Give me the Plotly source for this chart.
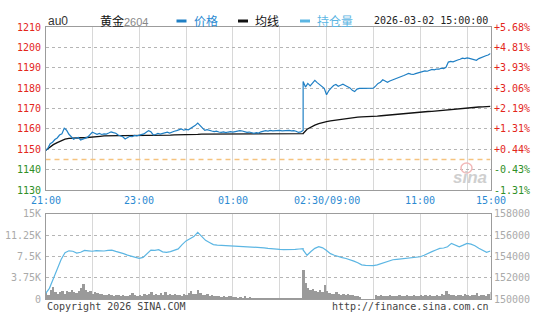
import plotly.graph_objects as go

# ---------------------------------------------------------------- data
SYMBOL = "au0"
NAME = "黄金"
CONTRACT = "2604"
STAMP = "2026-03-02 15:00:00"
REF_PRICE = 1145

PRICE_TICKS = [1130, 1140, 1150, 1160, 1170, 1180, 1190, 1200, 1210]
PCT_LABELS = ["-1.31%", "-0.43%", "+0.44%", "+1.31%", "+2.19%",
              "+3.06%", "+3.93%", "+4.81%", "+5.68%"]
TIME_TICKS = ["21:00", "23:00", "01:00", "03:00", "11:30", "15:00"]
TIME_LABELS = ["21:00", "23:00", "01:00", "02:30/09:00", "11:00", "15:00"]
VOL_TICKS = [0, 3750, 7500, 11250, 15000]
VOL_LABELS = ["0", "3.75K", "7.5K", "11.25K", "15K"]
OI_TICKS = [150000, 152000, 154000, 156000, 158000]

# price, 3-minute samples: night 21:00-02:30, day 09:00-11:30, 13:33-15:00
PRICE_NIGHT = [
    1149.3, 1150.5, 1152.8, 1153.5, 1154.8, 1155.6, 1157.0, 1157.6, 1160.4, 1159.4,
    1157.4, 1156.2, 1155.0, 1155.6, 1155.9, 1154.6, 1155.2, 1155.4, 1156.0, 1157.2,
    1158.4, 1157.9, 1157.4, 1157.8, 1157.3, 1157.6, 1157.5, 1158.0, 1158.6, 1158.2,
    1157.9, 1157.0, 1156.4, 1156.2, 1155.1, 1155.6, 1156.4, 1156.2, 1156.8, 1156.6,
    1157.0, 1157.3, 1157.6, 1158.4, 1159.2, 1158.6, 1157.1, 1157.3, 1157.8, 1157.5,
    1157.9, 1158.2, 1158.4, 1158.0, 1158.6, 1158.9, 1159.2, 1159.5, 1160.0, 1159.4,
    1159.8, 1159.6, 1160.2, 1160.9, 1161.8, 1162.9, 1161.7, 1160.4, 1159.3, 1159.7,
    1159.5, 1159.0, 1158.7, 1158.9, 1158.5, 1158.3, 1158.6, 1158.2, 1158.5, 1158.7,
    1158.5, 1158.8, 1158.9, 1159.2, 1159.0, 1158.6, 1158.3, 1158.5, 1158.1, 1157.9,
    1158.2, 1158.0, 1158.6, 1159.1, 1159.2, 1159.0, 1159.3, 1159.1, 1159.2, 1159.0,
    1159.3, 1159.1, 1159.2, 1159.0, 1159.3, 1159.1, 1159.2, 1158.9, 1158.3, 1158.6,
    1159.3,
]
PRICE_AM = [
    1183.3, 1180.6, 1182.4, 1181.2, 1182.6, 1183.9, 1182.8, 1182.0, 1181.2, 1180.0,
    1176.8, 1178.9, 1180.2, 1181.4, 1181.9, 1181.0, 1181.5, 1182.0, 1181.4, 1180.9,
    1180.2, 1179.0, 1178.4, 1179.6, 1180.0, 1180.0, 1180.0, 1180.0, 1180.0, 1180.0,
    1180.1, 1181.2, 1182.4, 1183.0, 1184.2, 1183.6, 1183.0, 1183.6, 1184.0, 1184.6,
    1185.0, 1185.4, 1185.9, 1186.3, 1186.8, 1187.3, 1187.0, 1186.8, 1187.2, 1187.6,
    1188.1,
]
PRICE_PM = [
    1188.3, 1188.6, 1188.4, 1189.0, 1189.3, 1189.1, 1189.5, 1189.4, 1189.9, 1189.7,
    1190.3, 1192.9, 1193.2, 1193.0, 1193.6, 1193.9, 1194.3, 1194.8, 1194.6, 1195.0,
    1194.7, 1194.3, 1194.0, 1193.8, 1194.6, 1195.2, 1195.6, 1196.0, 1196.4, 1197.1,
]

# volume, same 3-minute samples
VOL_NIGHT = [
    1100, 700, 1600, 2100, 1300, 900, 1200, 1500, 1000, 1400,
    1200, 1700, 1300, 1100, 1500, 2000, 2700, 1600, 1200, 1400,
    1000, 1300, 1100, 900, 1000, 800, 700, 900, 700, 600,
    800, 700, 600, 700, 500, 600, 800, 1100, 700, 600,
    800, 600, 900, 700, 1000, 1200, 800, 900, 700, 1100,
    800, 1300, 700, 900, 800, 1000, 700, 800, 600, 900,
    700, 1100, 1400, 900, 1000, 1600, 1100, 800, 700, 1000,
    600, 700, 500, 600, 500, 400, 500, 400, 600, 500,
    400, 400, 300, 400, 300, 500, 300, 400, 300, 300,
    200, 300, 200, 200, 200, 300, 200, 200, 200, 200,
    200, 200, 200, 200, 200, 300, 200, 200, 300, 300,
    400,
]
VOL_AM = [
    4800, 2800, 2000, 1700, 1900, 1500, 1300, 1600, 1200, 2600,
    1400, 1100, 1000, 900, 1200, 900, 800, 1000, 700, 900,
    800, 700, 600, 500, 400, 0, 0, 0, 0, 0,
    0, 700, 600, 800, 500, 600, 500, 700, 600, 500,
    600, 800, 500, 600, 700, 500, 600, 700, 500, 600,
    700,
]
VOL_PM = [
    600, 700, 500, 800, 600, 500, 700, 600, 900, 700,
    1400, 900, 800, 700, 600, 800, 700, 600, 900, 700,
    600, 800, 700, 1100, 600, 700, 800, 600, 900, 1200,
]

# average price and open interest, 5-minute samples
AVG_NIGHT = [
    1149.4, 1150.9, 1152.3, 1153.3, 1154.2, 1155.0, 1155.4, 1155.6, 1155.7, 1155.7,
    1155.7, 1155.8, 1155.9, 1156.1, 1156.4, 1156.6, 1156.7, 1156.7, 1156.7, 1156.7,
    1156.7, 1156.7, 1156.7, 1156.7, 1156.8, 1156.8, 1156.9, 1156.9, 1156.9, 1157.0,
    1157.0, 1157.0, 1157.0, 1157.1, 1157.1, 1157.1, 1157.2, 1157.2, 1157.3, 1157.4,
    1157.5, 1157.5, 1157.5, 1157.5, 1157.5, 1157.5, 1157.5, 1157.5, 1157.6, 1157.6,
    1157.6, 1157.6, 1157.6, 1157.6, 1157.6, 1157.6, 1157.6, 1157.7, 1157.7, 1157.7,
    1157.7, 1157.7, 1157.7, 1157.7, 1157.7, 1157.7, 1157.7,
]
AVG_AM = [
    1157.8, 1159.9, 1161.0, 1161.9, 1162.6, 1163.2, 1163.6, 1164.0, 1164.3, 1164.6,
    1164.9, 1165.1, 1165.3, 1165.6, 1165.8, 1166.0, 1166.0, 1166.0, 1166.1, 1166.3,
    1166.5, 1166.7, 1166.9, 1167.0, 1167.2, 1167.4, 1167.6, 1167.8, 1168.0, 1168.1,
    1168.3,
]
AVG_PM = [
    1168.4, 1168.6, 1168.7, 1168.9, 1169.1, 1169.3, 1169.5, 1169.7, 1169.9, 1170.1,
    1170.3, 1170.4, 1170.6, 1170.7, 1170.8, 1170.9, 1171.0, 1171.1,
]
OI_NIGHT = [
    150500, 151000, 151900, 152850, 153700, 154350, 154520, 154480, 154300, 154380,
    154560, 154520, 154480, 154530, 154510, 154500, 154560, 154590, 154470, 154380,
    154250, 154120, 154000, 153900, 153820, 153900, 154200, 154580, 154560, 154620,
    154420, 154380, 154450, 154560, 154700, 155100, 155450, 155650, 155850, 156250,
    155850, 155500, 155300, 155100, 155060, 155040, 155010, 155000, 154990, 154970,
    154960, 154940, 154920, 154900, 154870, 154850, 154800, 154750, 154700, 154660,
    154650, 154640, 154630, 154620, 154650, 154690, 154720,
]
OI_AM = [
    154600, 154100, 154450, 154750, 154900, 154800, 154550, 154250, 154100, 153970,
    153880, 153800, 153700, 153550, 153400, 153200, 153150, 153130, 153130, 153200,
    153330, 153480, 153600, 153680, 153720, 153750, 153790, 153830, 153880, 153920,
    153960,
]
OI_PM = [
    154100, 154300, 154440, 154600, 154740, 154780, 154900, 155220, 155050, 154900,
    155050, 155220, 155150, 155000, 154760, 154550, 154380, 154500,
]


# ---------------------------------------------------------------- trading clock
def clock_range(start, end, step):
    """Clock strings from start to end (inclusive), wrapping past midnight."""
    h, m = map(int, start.split(":"))
    eh, em = map(int, end.split(":"))
    cur, stop = h * 60 + m, eh * 60 + em
    out = []
    while True:
        out.append(f"{(cur // 60) % 24:02d}:{cur % 60:02d}")
        if cur % 1440 == stop:
            break
        cur += step
    return out


def axis_minute(clock):
    """Position on the compressed session axis (night 0-330, day 330-570)."""
    h, m = map(int, clock.split(":"))
    t = h * 60 + m
    if h >= 21:
        return t - 21 * 60
    if h < 9:
        return t + 3 * 60
    if t <= 11 * 60 + 30:
        return 330 + t - 9 * 60
    return 480 + t - (13 * 60 + 30)


T3 = (clock_range("21:00", "02:30", 3) + clock_range("09:00", "11:30", 3)
      + clock_range("13:33", "15:00", 3))
T5 = (clock_range("21:00", "02:30", 5) + clock_range("09:00", "11:30", 5)
      + clock_range("13:35", "15:00", 5))
X3 = [axis_minute(t) for t in T3]
X5 = [axis_minute(t) for t in T5]

price = PRICE_NIGHT + PRICE_AM + PRICE_PM
volume = VOL_NIGHT + VOL_AM + VOL_PM
avg = AVG_NIGHT + AVG_AM + AVG_PM
oi = OI_NIGHT + OI_AM + OI_PM
assert len(price) == len(X3) == len(volume), (len(price), len(volume), len(X3))
assert len(avg) == len(X5) == len(oi), (len(avg), len(oi), len(X5))

X_END = axis_minute("15:00")

# ---------------------------------------------------------------- layout helpers
W, H = 553, 330
L, R = 45.5, 490.5
TOP_T, TOP_B = 27.3, 190.0
BOT_T, BOT_B = 213.7, 299.0


def px(x):
    return x / W


def py(y):
    return 1 - y / H


MONO = "DejaVu Sans Mono"
CJK = "Noto Sans CJK SC"
RED, GREEN = "#e3261b", "#2f8f26"
BLUE_TXT = "#2b8ad2"
PRICE_C, AVG_C, OI_C = "#1f7fc4", "#111111", "#5cb6e3"
GREY_TXT = "#aaaaaa"

fig = go.Figure()

fig.add_trace(go.Scatter(x=[0, X_END], y=[REF_PRICE, REF_PRICE], mode="lines",
                         line=dict(color="#f5c37f", width=1.6, dash="5px,4px"),
                         xaxis="x", yaxis="y", hoverinfo="skip"))
fig.add_trace(go.Scatter(x=X5, y=avg, mode="lines", line=dict(color=AVG_C, width=1.3),
                         xaxis="x", yaxis="y", name="均线"))
fig.add_trace(go.Scatter(x=X3, y=price, mode="lines", line=dict(color=PRICE_C, width=1.2),
                         xaxis="x", yaxis="y", name="价格"))
fig.add_trace(go.Bar(x=X3, y=volume, width=3, marker=dict(color="#9a9a9a", line=dict(width=0)),
                     xaxis="x2", yaxis="y2", name="成交量"))
fig.add_trace(go.Scatter(x=X5, y=oi, mode="lines", line=dict(color=OI_C, width=1.2),
                         xaxis="x2", yaxis="y3", name="持仓量"))

grid_x = dict(showgrid=True, gridcolor="#d8d8d8", gridwidth=1, tick0=0, dtick=60,
              showticklabels=False, ticks="", zeroline=False,
              showline=True, mirror=True, linecolor="#9c9c9c", linewidth=1,
              range=[0, X_END])
grid_y = dict(showgrid=True, gridcolor="#b5b5b5", griddash="dot", gridwidth=1,
              showticklabels=False, ticks="", zeroline=False,
              showline=True, mirror=True, linecolor="#9c9c9c", linewidth=1)

fig.update_layout(
    width=W, height=H, margin=dict(l=0, r=0, t=0, b=0),
    paper_bgcolor="white", plot_bgcolor="white", showlegend=False, bargap=0,
    xaxis=dict(grid_x, domain=[px(L), px(R)], anchor="y"),
    yaxis=dict(grid_y, domain=[py(TOP_B), py(TOP_T)], range=[PRICE_TICKS[0], PRICE_TICKS[-1]],
               tickvals=PRICE_TICKS, anchor="x"),
    xaxis2=dict(grid_x, domain=[px(L), px(R)], anchor="y2"),
    yaxis2=dict(grid_y, domain=[py(BOT_B), py(BOT_T)], range=[VOL_TICKS[0], VOL_TICKS[-1]],
                tickvals=VOL_TICKS, anchor="x2"),
    yaxis3=dict(overlaying="y2", range=[OI_TICKS[0], OI_TICKS[-1]], showgrid=False,
                showticklabels=False, zeroline=False, anchor="x2", side="right"),
)

ann = []


def text(x, y, s, color, size=10, family=MONO, xanchor="left", xref="paper", yref="paper", **kw):
    ann.append(dict(x=x, y=y, text=s, showarrow=False, xref=xref, yref=yref,
                    xanchor=xanchor, yanchor="middle",
                    font=dict(family=family, size=size, color=color), **kw))


# price / percentage tick labels
for v, pct in zip(PRICE_TICKS, PCT_LABELS):
    c = RED if v > REF_PRICE else GREEN
    text(px(L - 3), v, str(v), c, xanchor="right", yref="y")
    text(px(R + 1.5), v, pct, c, xanchor="left", yref="y")

# session time labels
for t, lab in zip(TIME_TICKS, TIME_LABELS):
    text(axis_minute(t), py(200.5), lab, BLUE_TXT, xanchor="center", xref="x")

# volume / open interest tick labels
for v, lab in zip(VOL_TICKS, VOL_LABELS):
    text(px(L - 3), v, lab, GREY_TXT, xanchor="right", yref="y2")
for v in OI_TICKS:
    text(px(R + 1.5), v, str(v), GREY_TXT, xanchor="left", yref="y3")

# header
text(px(L), py(21), SYMBOL, "#333333", size=12, family="Liberation Sans")
text(px(97.5), py(21), NAME, "#111111", size=12, family=CJK)
text(px(121.5), py(21.5), CONTRACT, "#888888", size=11, family="Liberation Sans")
text(px(192), py(21), "价格", BLUE_TXT, size=12, family=CJK)
text(px(253), py(21), "均线", "#111111", size=12, family=CJK)
text(px(315), py(21), "持仓量", OI_C, size=12, family=CJK)
text(px(372), py(21), STAMP, "#222222")

# footer
text(px(L - 1), py(306.5), "Copyright 2026 SINA.COM", "#444444")
text(px(R + 0.5), py(306.5), "http://finance.sina.com.cn", "#444444", xanchor="right")

# watermark
text(px(470), py(177), "<b><i>sina</i></b>", "#cfcfcf", size=17, family="Liberation Sans",
     xanchor="center")

fig.update_layout(annotations=ann)

shapes = []
for x0, color in [(176.5, PRICE_C), (238, "#111111"), (300, OI_C)]:
    shapes.append(dict(type="line", xref="paper", yref="paper",
                       x0=px(x0), x1=px(x0 + 10), y0=py(21), y1=py(21),
                       line=dict(color=color, width=3)))
shapes.append(dict(type="circle", xref="paper", yref="paper",
                   x0=px(461), x1=px(472), y0=py(173), y1=py(163),
                   line=dict(color="#f2b9b9", width=1.5)))
fig.update_layout(shapes=shapes)

fig.write_html("out.html")
